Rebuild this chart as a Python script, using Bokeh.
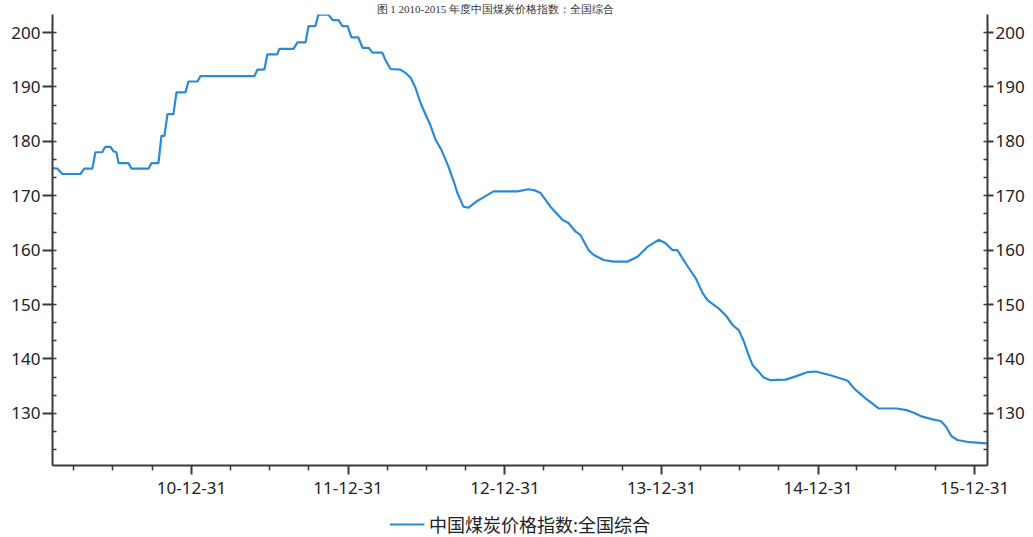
import pandas as pd
from bokeh.plotting import figure
from bokeh.layouts import column
from bokeh.models import (Range1d, LinearAxis, FixedTicker, SingleIntervalTicker,
                          DatetimeTickFormatter, Legend, LegendItem, Title)
from bokeh.embed import file_html
from bokeh.resources import INLINE

# ---------------- data ----------------
title_text = "图 1   2010-2015 年度中国煤炭价格指数：全国综合"
series_name = "中国煤炭价格指数:全国综合"

dates = [
    "2010-02-10", "2010-02-21", "2010-03-05", "2010-04-16", "2010-04-25", "2010-05-14",
    "2010-05-21", "2010-06-06", "2010-06-13", "2010-06-25", "2010-07-02", "2010-07-09",
    "2010-07-14", "2010-08-06", "2010-08-13", "2010-09-22", "2010-09-29", "2010-10-15",
    "2010-10-22", "2010-10-29", "2010-11-05", "2010-11-19", "2010-11-26", "2010-12-17",
    "2010-12-24", "2011-01-14", "2011-01-21", "2011-05-27", "2011-06-03", "2011-06-19",
    "2011-06-26", "2011-07-19", "2011-07-24", "2011-08-26", "2011-09-04", "2011-09-23",
    "2011-09-30", "2011-10-16", "2011-10-23", "2011-11-15", "2011-11-25", "2011-12-09",
    "2011-12-18", "2011-12-30", "2012-01-08", "2012-01-24", "2012-02-03", "2012-02-17",
    "2012-02-26", "2012-03-20", "2012-03-27", "2012-04-08", "2012-05-01", "2012-05-13",
    "2012-05-25", "2012-06-05", "2012-06-17", "2012-06-29", "2012-07-10", "2012-07-22",
    "2012-08-05", "2012-08-21", "2012-09-04", "2012-09-11", "2012-09-25", "2012-10-07",
    "2012-10-28", "2012-11-11", "2012-12-04", "2013-01-29", "2013-02-24", "2013-03-10",
    "2013-03-24", "2013-04-16", "2013-05-14", "2013-05-28", "2013-06-14", "2013-06-25",
    "2013-07-14", "2013-07-26", "2013-08-18", "2013-09-10", "2013-10-13", "2013-11-05",
    "2013-11-28", "2013-12-24", "2014-01-09", "2014-01-26", "2014-02-06", "2014-03-02",
    "2014-03-21", "2014-04-06", "2014-04-17", "2014-05-13", "2014-05-30", "2014-06-15",
    "2014-06-29", "2014-07-10", "2014-07-22", "2014-07-31", "2014-08-12", "2014-08-26",
    "2014-09-11", "2014-10-16", "2014-11-09", "2014-12-07", "2014-12-26", "2015-01-29",
    "2015-03-10", "2015-03-26", "2015-04-23", "2015-05-21", "2015-07-02", "2015-07-25",
    "2015-08-11", "2015-08-27", "2015-09-24", "2015-10-13", "2015-10-25", "2015-11-07",
    "2015-11-21", "2015-12-19", "2016-01-28",
]

index_values = [
    175.1, 175.0, 174.0, 174.0, 175.0, 175.0,
    178.0, 178.0, 179.0, 179.0, 178.2, 178.0,
    176.0, 176.0, 175.0, 175.0, 176.0, 176.0,
    181.0, 181.0, 185.0, 185.0, 189.0, 189.0,
    191.0, 191.0, 192.0, 192.0, 193.2, 193.2,
    196.0, 196.0, 197.0, 197.0, 198.2, 198.2,
    201.2, 201.2, 203.3, 203.3, 202.3, 202.3,
    201.2, 201.2, 199.1, 199.1, 197.2, 197.2,
    196.3, 196.3, 195.0, 193.3, 193.2, 192.6,
    191.7, 189.9, 187.1, 184.9, 183.0, 180.3,
    178.4, 175.4, 172.3, 170.5, 168.0, 167.8,
    169.1, 169.7, 170.8, 170.8, 171.2, 171.0,
    170.5, 168.0, 165.6, 165.0, 163.4, 162.8,
    160.0, 159.1, 158.2, 157.9, 157.9, 158.8,
    160.6, 161.9, 161.3, 160.0, 160.0, 157.0,
    154.8, 152.1, 150.8, 149.3, 148.0, 146.2,
    145.3, 143.4, 140.7, 138.9, 137.9, 136.6,
    136.1, 136.2, 136.8, 137.6, 137.7, 137.0,
    136.0, 134.5, 132.6, 130.9, 130.9, 130.6,
    130.1, 129.5, 128.9, 128.6, 127.6, 125.8,
    125.1, 124.7, 124.5,
]

x_tick_dates = ["2010-12-31", "2011-12-31", "2012-12-31", "2013-12-31", "2014-12-31", "2015-12-31"]
x_tick_labels = ["10-12-31", "11-12-31", "12-12-31", "13-12-31", "14-12-31", "15-12-31"]
x_minor_dates = [
    "2010-03-31", "2010-06-30", "2010-09-30",
    "2011-03-31", "2011-06-30", "2011-09-30",
    "2012-03-31", "2012-06-30", "2012-09-30",
    "2013-03-31", "2013-06-30", "2013-09-30",
    "2014-03-31", "2014-06-30", "2014-09-30",
    "2015-03-31", "2015-06-30", "2015-09-30",
]
x_start, x_end = "2010-02-10", "2016-01-30"
y_start, y_end = 120.42, 203.32

# ---------------- main chart ----------------
def ms(d):
    return pd.Timestamp(d).timestamp() * 1000.0

dt = pd.to_datetime(dates)

AXIS_COLOR = "#3a3a3a"
LABEL_COLOR = "#222222"
LINE_COLOR = "#2a8ad6"
FONT = "Noto Sans"

fig = figure(width=1033, height=505, x_axis_type="datetime",
             x_range=Range1d(pd.Timestamp(x_start), pd.Timestamp(x_end)),
             y_range=Range1d(y_start, y_end),
             output_backend="svg", toolbar_location=None,
             min_border_left=52, min_border_right=46, min_border_top=12,
             min_border_bottom=40)

fig.background_fill_color = "white"
fig.border_fill_color = "white"
fig.outline_line_color = None
fig.grid.visible = False

# title: small so it fits in the narrow strip above the frame
fig.title = Title(text=title_text, align="left", offset=324, standoff=0,
                  text_font="Liberation Serif", text_font_size="11px",
                  text_font_style="normal", text_color="#333333")

r = fig.line(dt, index_values, line_color=LINE_COLOR, line_width=2.2)

# x axis
xa = fig.xaxis[0]
xa.ticker = FixedTicker(ticks=[ms(d) for d in x_tick_dates],
                        minor_ticks=[ms(d) for d in x_minor_dates])
xa.formatter = DatetimeTickFormatter(
    milliseconds="%y-%m-%d", seconds="%y-%m-%d", minsec="%y-%m-%d",
    minutes="%y-%m-%d", hourmin="%y-%m-%d", hours="%y-%m-%d",
    days="%y-%m-%d", months="%y-%m-%d", years="%y-%m-%d")
xa.axis_line_color = AXIS_COLOR
xa.axis_line_width = 2
xa.major_tick_line_color = AXIS_COLOR
xa.major_tick_line_width = 2
xa.minor_tick_line_color = AXIS_COLOR
xa.minor_tick_line_width = 1.5
xa.major_tick_out = 9
xa.major_tick_in = 0
xa.minor_tick_out = 5
xa.minor_tick_in = 0
xa.major_label_standoff = 7
xa.major_label_text_font = FONT
xa.major_label_text_font_size = "17px"
xa.major_label_text_color = LABEL_COLOR

# y axes
def style_y(ax, tick_out):
    ax.ticker = SingleIntervalTicker(interval=10, num_minor_ticks=3)
    ax.axis_line_color = AXIS_COLOR
    ax.axis_line_width = 2
    ax.major_tick_line_color = AXIS_COLOR
    ax.major_tick_line_width = 2
    ax.minor_tick_line_color = AXIS_COLOR
    ax.minor_tick_line_width = 1.5
    ax.major_tick_out = tick_out
    ax.major_tick_in = 0
    ax.minor_tick_in = 4
    ax.minor_tick_out = 0
    ax.major_label_standoff = 2
    ax.major_label_text_font = FONT
    ax.major_label_text_font_size = "17px"
    ax.major_label_text_color = LABEL_COLOR

style_y(fig.yaxis[0], 10)
ra = LinearAxis()
style_y(ra, 6)
fig.add_layout(ra, "right")

# ---------------- legend strip ----------------
leg = figure(width=1033, height=32, x_range=Range1d(0, 1), y_range=Range1d(0, 1),
             output_backend="svg", toolbar_location=None,
             x_axis_location=None, y_axis_location=None, min_border=0)
leg.outline_line_color = None
leg.grid.visible = False
# stand-in renderer (outside the strip's ranges) that only supplies the legend swatch
leg_r = leg.line(x=[-5, -4], y=[-5, -5], line_color=LINE_COLOR, line_width=2.2)
legend = Legend(items=[LegendItem(label=series_name, renderers=[leg_r])],
                location="bottom_center", orientation="horizontal",
                padding=0, spacing=0, margin=0,
                border_line_color=None, background_fill_alpha=0,
                glyph_width=35, glyph_height=20, label_height=20, label_standoff=5,
                label_text_font="Noto Sans CJK SC", label_text_font_size="18px",
                label_text_color=LABEL_COLOR)
leg.add_layout(legend, "center")

p = column(fig, leg, spacing=0)

open("out.html", "w").write(file_html(p, INLINE))
